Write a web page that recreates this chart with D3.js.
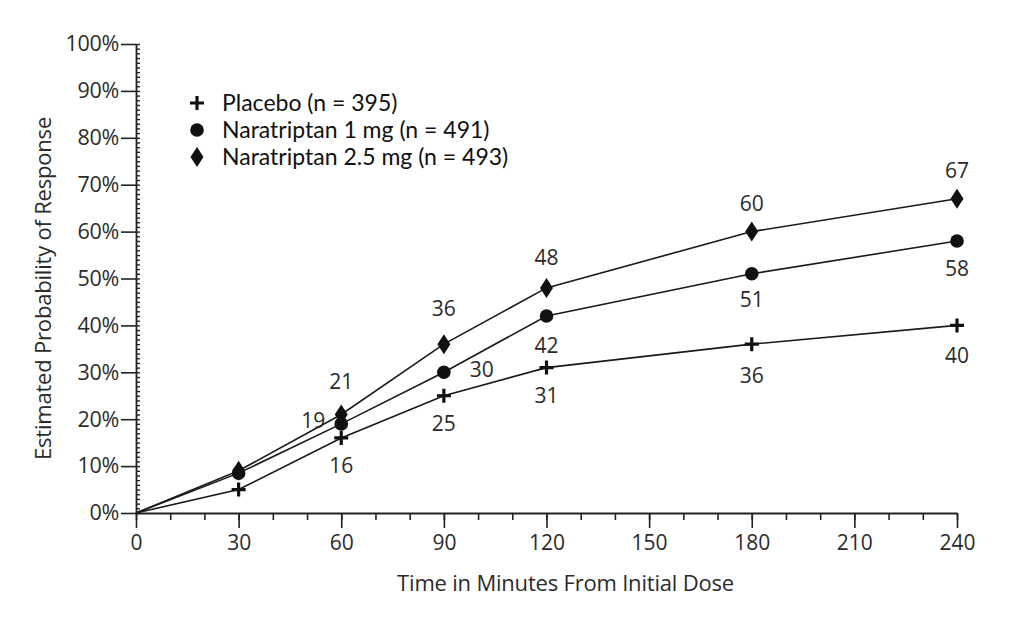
<!DOCTYPE html>
<html>
<head>
<meta charset="utf-8">
<script src="https://cdn.jsdelivr.net/npm/d3@7"></script>
<style>
  body { margin: 0; background: #fff; }
  svg text { font-family: "Open Sans", "Noto Sans", sans-serif; fill: #2b2b2b; }
  .legend text { font-family: Lato, "Open Sans", sans-serif; fill: #111; }
</style>
</head>
<body>
<div id="chart"></div>
<script>
// time points (minutes)
var times = [0, 30, 60, 90, 120, 180, 240];
// estimated probability of response (%)
var placebo = [0, 5, 16, 25, 31, 36, 40];
var nara1 = [0, 8.5, 19, 30, 42, 51, 58];
var nara25 = [0, 9, 21, 36, 48, 60, 67];
var seriesNames = ["Placebo (n = 395)", "Naratriptan 1 mg (n = 491)", "Naratriptan 2.5 mg (n = 493)"];
var xTicks = [0, 30, 60, 90, 120, 150, 180, 210, 240];
var yTicks = [0, 10, 20, 30, 40, 50, 60, 70, 80, 90, 100];

// label placement for each annotated point: [dx, dy]
var placeboLabels = [null, null, [0, 28], [0, 28], [0, 28], [0, 31], [0, 30]];
var nara1Labels = [null, null, [-28, -3], [38, -3], [0, 30], [0, 26], [0, 28]];
var nara25Labels = [null, null, [0, -33], [0, -36], [0, -30], [0, -28], [0, -28]];

var margin = { left: 136, top: 44, right: 56, bottom: 118 };
var width = 1013 - margin.left - margin.right;
var height = 631 - margin.top - margin.bottom;

var svg = d3.select("#chart").append("svg")
  .attr("width", 1013).attr("height", 631);
var g = svg.append("g")
  .attr("transform", "translate(" + margin.left + "," + margin.top + ")");

var x = d3.scaleLinear().domain([0, 240]).range([0, width]);
var y = d3.scaleLinear().domain([0, 100]).range([height, 0]);

// x axis: minor ticks every 10, major every 30
g.append("g")
  .attr("transform", "translate(0," + height + ")")
  .call(d3.axisBottom(x).tickValues(d3.range(0, 241, 10)).tickSize(7).tickFormat(""))
  .call(a => a.select(".domain").remove())
  .selectAll("line").attr("stroke", "#222").attr("stroke-width", 1.6);

var xAxis = g.append("g")
  .attr("transform", "translate(0," + height + ")")
  .call(d3.axisBottom(x).tickValues(xTicks).tickSize(15).tickPadding(7).tickSizeOuter(0));
xAxis.select(".domain").attr("stroke", "#222").attr("stroke-width", 1.8);
xAxis.selectAll("line").attr("stroke", "#222").attr("stroke-width", 1.6);
xAxis.selectAll("text").style("font-size", "21px").attr("fill", "#2b2b2b");

// y axis: minor ticks every 1% on the right side, major to the left
g.append("g")
  .call(d3.axisRight(y).tickValues(d3.range(0, 101, 1)).tickSize(4).tickFormat(""))
  .call(a => a.select(".domain").remove())
  .selectAll("line").attr("stroke", "#222").attr("stroke-width", 1.4);

var yAxis = g.append("g")
  .call(d3.axisLeft(y).tickValues(yTicks).tickSize(15).tickPadding(2).tickSizeOuter(0)
    .tickFormat(d => d + "%"));
yAxis.select(".domain").attr("stroke", "#222").attr("stroke-width", 1.8);
yAxis.selectAll("line").attr("stroke", "#222").attr("stroke-width", 1.6);
yAxis.selectAll("text").style("font-size", "21.5px").style("letter-spacing", "-0.3px").attr("fill", "#2b2b2b");

// axis titles
g.append("text")
  .attr("x", x(120) + 19).attr("y", height + 78)
  .attr("text-anchor", "middle")
  .style("font-size", "22px")
  .style("letter-spacing", "-0.2px")
  .text("Time in Minutes From Initial Dose");

g.append("text")
  .attr("transform", "translate(" + (-85) + "," + (height / 2 + 10) + ") rotate(-90)")
  .attr("text-anchor", "middle")
  .style("font-size", "22px")
  .style("letter-spacing", "-0.2px")
  .text("Estimated Probability of Response");

// markers
var crossPath = "M-7,-1.6H-1.6V-7H1.6V-1.6H7V1.6H1.6V7H-1.6V1.6H-7Z";
var diamondPath = "M0,-10L6.5,0L0,10L-6.5,0Z";
function drawMarker(sel, type) {
  if (type == "cross") sel.append("path").attr("d", crossPath).attr("fill", "#111");
  else if (type == "circle") sel.append("circle").attr("r", 6.8).attr("fill", "#111");
  else sel.append("path").attr("d", diamondPath).attr("fill", "#111");
}

var series = [
  { name: seriesNames[0], values: placebo, marker: "cross", labels: placeboLabels },
  { name: seriesNames[1], values: nara1, marker: "circle", labels: nara1Labels },
  { name: seriesNames[2], values: nara25, marker: "diamond", labels: nara25Labels }
];

var line = d3.line().x((d, i) => x(times[i])).y(d => y(d));

series.forEach(function (s) {
  g.append("path")
    .datum(s.values)
    .attr("d", line)
    .attr("fill", "none")
    .attr("stroke", "#1a1a1a")
    .attr("stroke-width", 1.6);
});

series.forEach(function (s) {
  s.values.forEach(function (v, i) {
    if (i == 0) return;
    var m = g.append("g").attr("transform", "translate(" + x(times[i]) + "," + y(v) + ")");
    drawMarker(m, s.marker);
    var off = s.labels[i];
    if (off) {
      g.append("text")
        .attr("x", x(times[i]) + off[0])
        .attr("y", y(v) + off[1])
        .attr("dy", "0.35em")
        .attr("text-anchor", "middle")
        .style("font-size", "21px")
        .text(Math.round(v));
    }
  });
});

// legend
var legend = svg.append("g").attr("class", "legend")
  .attr("transform", "translate(197,103)");
series.forEach(function (s, i) {
  var row = legend.append("g").attr("transform", "translate(0," + i * 27 + ")");
  drawMarker(row, s.marker);
  row.append("text")
    .attr("x", 25).attr("y", 0).attr("dy", "0.35em")
    .style("font-size", "23px")
    .text(s.name);
});
</script>
</body>
</html>
